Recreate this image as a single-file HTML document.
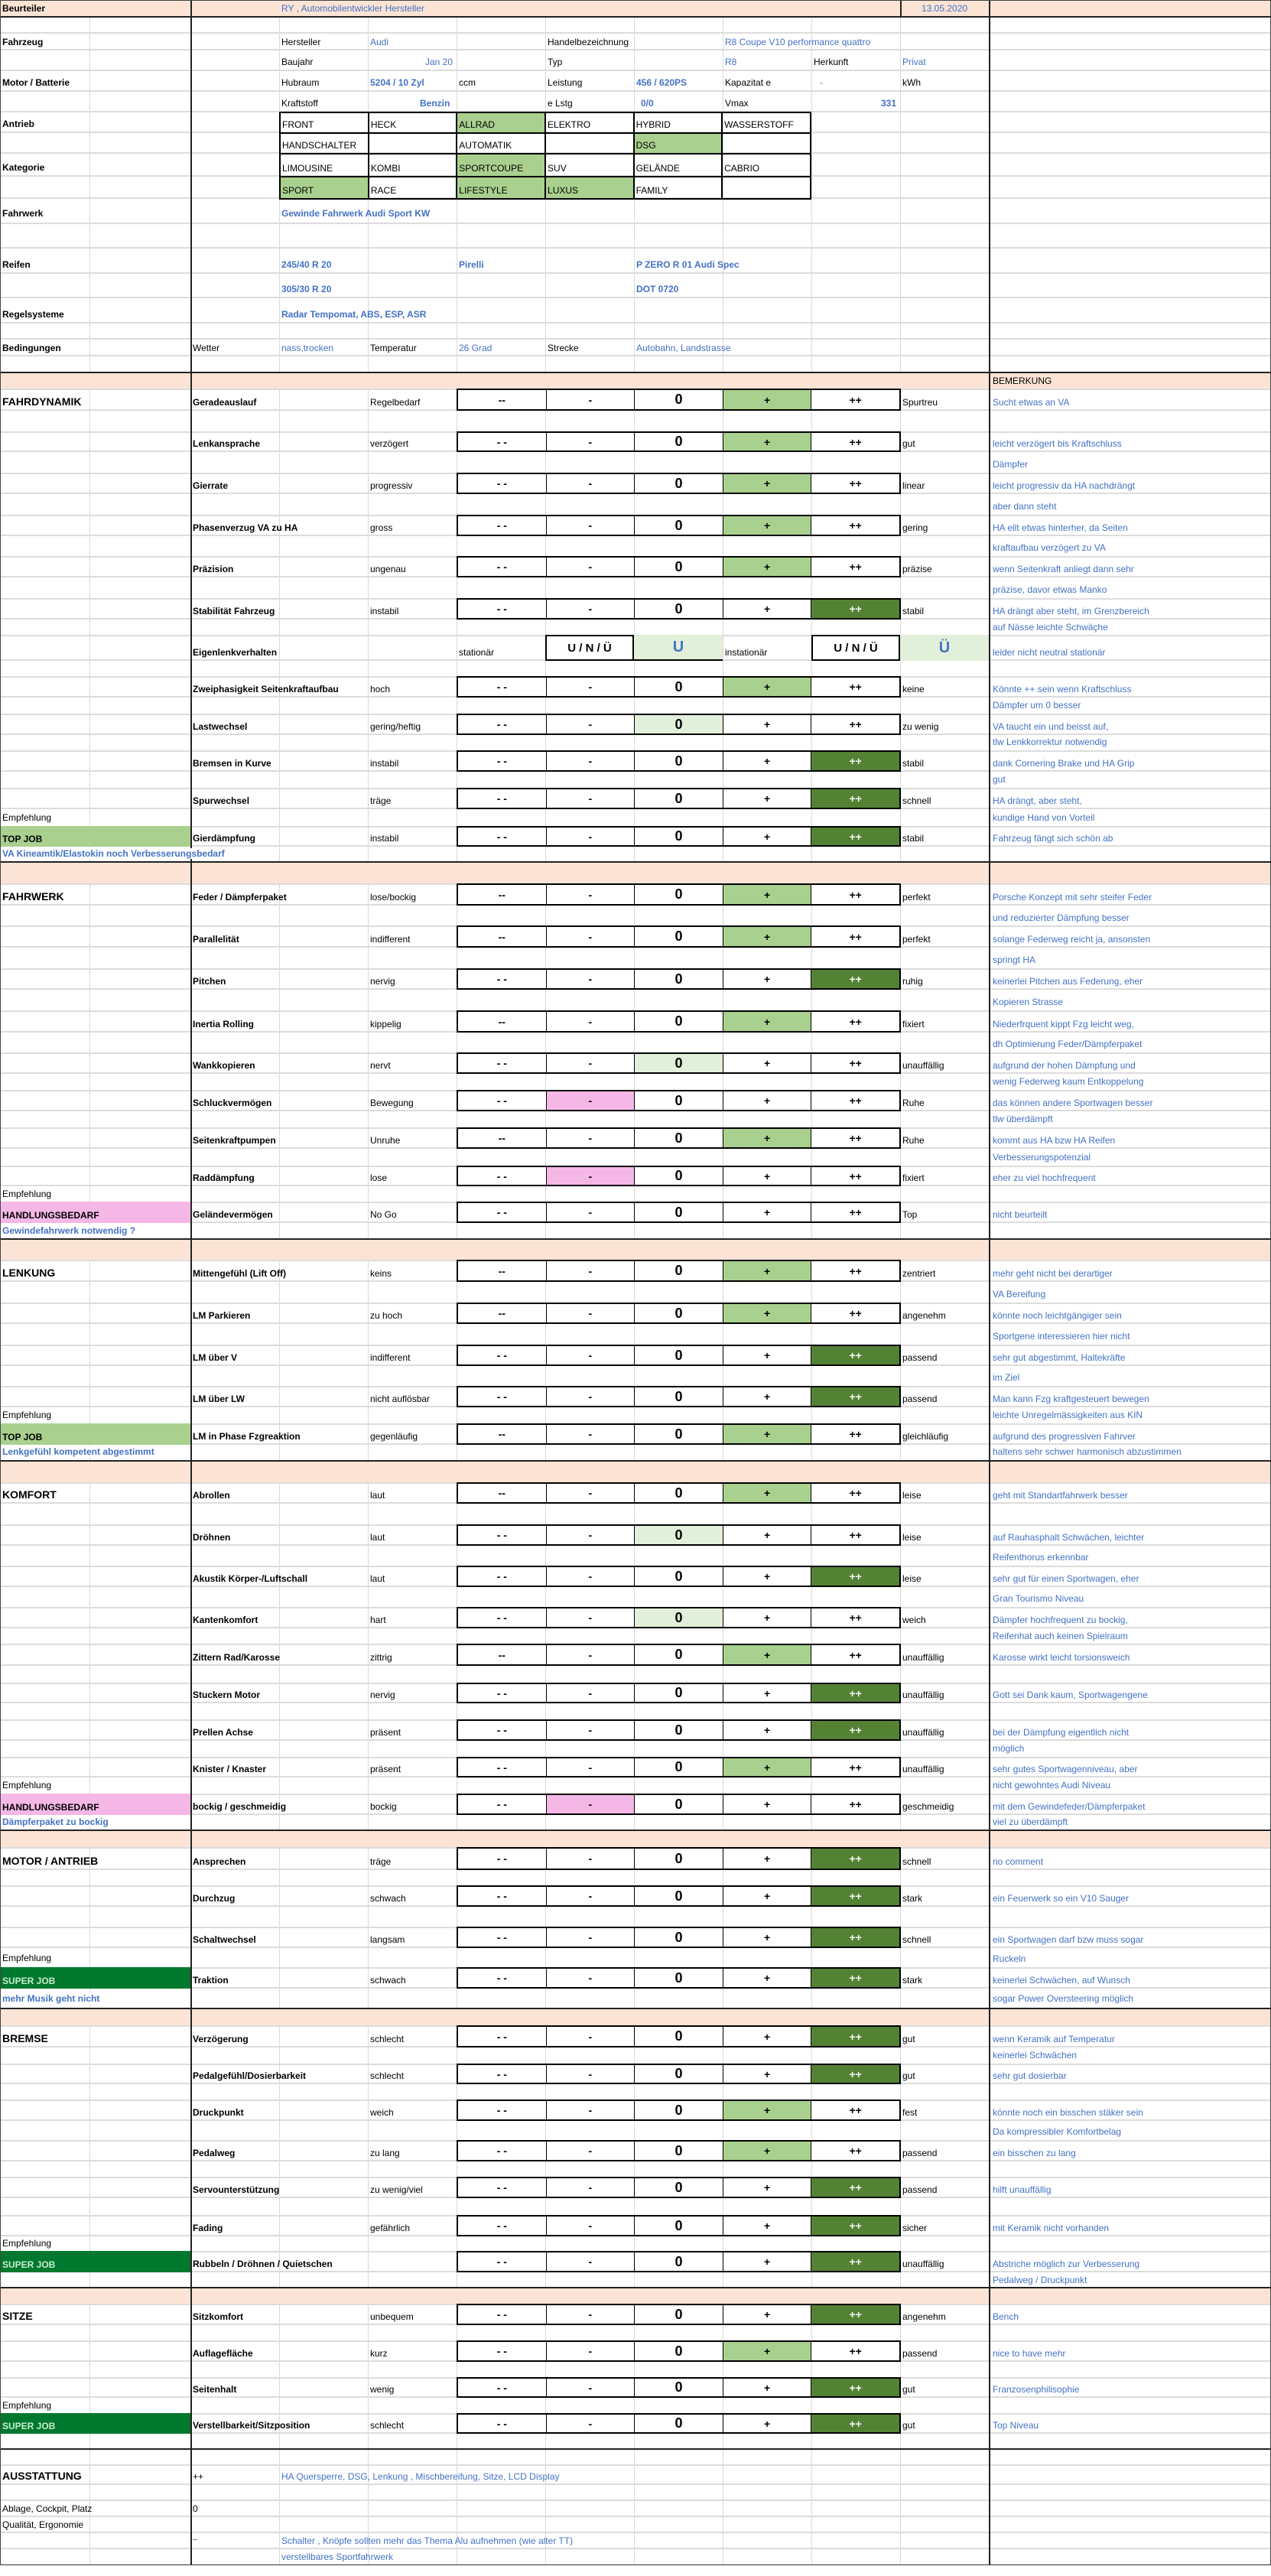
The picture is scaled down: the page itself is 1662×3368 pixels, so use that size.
<!DOCTYPE html>
<html><head><meta charset="utf-8"><style>
*{margin:0;padding:0}
body{width:1662px;height:3368px;position:relative;background:#fff;font:12px "Liberation Sans",sans-serif;color:#000;overflow:hidden}
.v{position:absolute;top:0;height:3354px;width:1px;background:#d9d9d9}
.vd{position:absolute;top:0;height:3354px;width:2px;background:#222;z-index:5}
.h{position:absolute;left:0;width:1662px;height:2px;background:#dcdcdc}
.k{position:absolute;left:0;width:1662px;height:2px;background:#222;z-index:6}
.p{position:absolute;left:0;width:1662px;background:#fbe4d5;z-index:2}
.r{position:absolute;left:0;width:1662px;border-top:2px solid #dcdcdc;border-bottom:2px solid #dcdcdc;box-sizing:border-box;z-index:3}
.r>*{position:absolute;bottom:2px;white-space:nowrap;font-style:normal}
.l{left:252px;font-weight:bold}
.a{left:484px}
.z{left:1180px}
.m{left:1298px;color:#4472c4}
.s{left:3px;font-weight:bold;font-size:14px}
.r>.bx{left:597px;top:-2px;bottom:-2px;width:581px;display:flex;border:2px solid #000;box-sizing:border-box;background:#fff}
.bx em{flex:1;display:flex;align-items:center;justify-content:center;font-style:normal;font-weight:bold;font-size:14px;border-left:1px solid #000}
.bx em:first-child{border-left:none}
.bx .o{font-size:18px}
.g{background:#a9d08e}.dg{background:#548235;color:#fff}.vl{background:#e2efda}.pk{background:#f5b8e6}
.t{position:absolute;white-space:nowrap;z-index:4}
.b{color:#4472c4}
.bb{color:#4472c4;font-weight:bold}
.lc{position:absolute;left:0;width:249px;z-index:4;font-weight:bold;padding:0 3px;box-sizing:border-box;display:flex;align-items:flex-end;padding-bottom:3px}
.tj{background:#a9d08e}.sj{background:#00782d;color:#c6efce}.hb{background:#f5b8e6}
.sm{position:absolute;left:0;z-index:6;background:#fff;padding:0 3px;color:#4472c4;font-weight:bold;white-space:nowrap}
.grid{position:absolute;left:365px;top:146px;width:696px;z-index:4;border-collapse:collapse}
.grid td{border:2px solid #000;width:116px;padding:0 2px;vertical-align:bottom;padding-bottom:3px;box-sizing:border-box}
</style></head><body>
<div style="position:absolute;left:0;top:0;width:1662px;height:3354px;border:1px solid #444;box-sizing:border-box;z-index:7;pointer-events:none"></div>
<div class="v" style="left:117px"></div><div class="v" style="left:365px"></div><div class="v" style="left:481px"></div><div class="v" style="left:597px"></div><div class="v" style="left:713px"></div><div class="v" style="left:829px"></div><div class="v" style="left:945px"></div><div class="v" style="left:1061px"></div><div class="v" style="left:1177px"></div>
<div class="vd" style="left:249px"></div><div class="vd" style="left:1293px"></div>

<div class="p" style="top:0;height:22px"></div>
<div style="position:absolute;left:1177px;top:0;width:2px;height:22px;background:#222;z-index:5"></div>
<div class="k" style="top:21px"></div>
<div class="t" style="left:3px;top:4px;font-weight:bold">Beurteiler</div>
<div class="t b" style="left:368px;top:4px">RY , Automobilentwickler Hersteller</div>
<div class="t b" style="left:1205px;top:4px">13.05.2020</div>

<div class="h" style="top:42px"></div><div class="h" style="top:64px"></div><div class="h" style="top:91px"></div><div class="h" style="top:118px"></div><div class="h" style="top:145px"></div><div class="h" style="top:172px"></div><div class="h" style="top:199px"></div><div class="h" style="top:229px"></div><div class="h" style="top:258px"></div><div class="h" style="top:291px"></div><div class="h" style="top:323px"></div><div class="h" style="top:356px"></div><div class="h" style="top:388px"></div><div class="h" style="top:421px"></div><div class="h" style="top:442px"></div><div class="h" style="top:464px"></div>

<div class="t" style="left:3px;top:48px;font-weight:bold">Fahrzeug</div>
<div class="t" style="left:368px;top:48px">Hersteller</div><div class="t b" style="left:484px;top:48px">Audi</div>
<div class="t" style="left:716px;top:48px">Handelbezeichnung</div><div class="t b" style="left:948px;top:48px">R8 Coupe V10 performance quattro</div>
<div class="t" style="left:368px;top:74px">Baujahr</div><div class="t b" style="left:556px;top:74px">Jan 20</div>
<div class="t" style="left:716px;top:74px">Typ</div><div class="t b" style="left:948px;top:74px">R8</div>
<div class="t" style="left:1064px;top:74px">Herkunft</div><div class="t b" style="left:1180px;top:74px">Privat</div>
<div class="t" style="left:3px;top:101px;font-weight:bold">Motor / Batterie</div>
<div class="t" style="left:368px;top:101px">Hubraum</div><div class="t bb" style="left:484px;top:101px">5204 / 10 Zyl</div><div class="t" style="left:600px;top:101px">ccm</div>
<div class="t" style="left:716px;top:101px">Leistung</div><div class="t bb" style="left:832px;top:101px">456 / 620PS</div>
<div class="t" style="left:948px;top:101px">Kapazitat e</div><div class="t b" style="left:1072px;top:101px">-</div><div class="t" style="left:1180px;top:101px">kWh</div>
<div class="t" style="left:368px;top:128px">Kraftstoff</div><div class="t bb" style="left:549px;top:128px">Benzin</div>
<div class="t" style="left:716px;top:128px">e Lstg</div><div class="t bb" style="left:838px;top:128px">0/0</div>
<div class="t" style="left:948px;top:128px">Vmax</div><div class="t bb" style="left:1152px;top:128px">331</div>
<div class="t" style="left:3px;top:155px;font-weight:bold">Antrieb</div>
<div class="t" style="left:3px;top:212px;font-weight:bold">Kategorie</div>
<table class="grid">
<tr style="height:27px"><td>FRONT</td><td>HECK</td><td class="g">ALLRAD</td><td>ELEKTRO</td><td>HYBRID</td><td>WASSERSTOFF</td></tr>
<tr style="height:27px"><td>HANDSCHALTER</td><td></td><td>AUTOMATIK</td><td></td><td class="g">DSG</td><td></td></tr>
<tr style="height:30px"><td>LIMOUSINE</td><td>KOMBI</td><td class="g">SPORTCOUPE</td><td>SUV</td><td>GELÄNDE</td><td>CABRIO</td></tr>
<tr style="height:29px"><td class="g">SPORT</td><td>RACE</td><td class="g">LIFESTYLE</td><td class="g">LUXUS</td><td>FAMILY</td><td></td></tr>
</table>
<div class="t" style="left:3px;top:272px;font-weight:bold">Fahrwerk</div><div class="t bb" style="left:368px;top:272px">Gewinde Fahrwerk Audi Sport KW</div>
<div class="t" style="left:3px;top:339px;font-weight:bold">Reifen</div><div class="t bb" style="left:368px;top:339px">245/40 R 20</div><div class="t bb" style="left:600px;top:339px">Pirelli</div><div class="t bb" style="left:832px;top:339px">P ZERO R 01 Audi Spec</div>
<div class="t bb" style="left:368px;top:371px">305/30 R 20</div><div class="t bb" style="left:832px;top:371px">DOT 0720</div>
<div class="t" style="left:3px;top:404px;font-weight:bold">Regelsysteme</div><div class="t bb" style="left:368px;top:404px">Radar Tempomat, ABS, ESP, ASR</div>
<div class="t" style="left:3px;top:448px;font-weight:bold">Bedingungen</div><div class="t" style="left:252px;top:448px">Wetter</div><div class="t b" style="left:368px;top:448px">nass,trocken</div><div class="t" style="left:484px;top:448px">Temperatur</div><div class="t b" style="left:600px;top:448px">26 Grad</div><div class="t" style="left:716px;top:448px">Strecke</div><div class="t b" style="left:832px;top:448px">Autobahn, Landstrasse</div>

<div class="k" style="top:486px"></div><div class="p" style="top:488px;height:20px"></div><div class="t" style="left:1298px;top:491px">BEMERKUNG</div>
<div class="k" style="top:1126px"></div><div class="p" style="top:1128px;height:27px"></div>
<div class="k" style="top:1619px"></div><div class="p" style="top:1621px;height:26px"></div>
<div class="k" style="top:1909px"></div><div class="p" style="top:1911px;height:27px"></div>
<div class="k" style="top:2392px"></div><div class="p" style="top:2394px;height:21px"></div>
<div class="k" style="top:2625px"></div><div class="p" style="top:2627px;height:21px"></div>
<div class="k" style="top:2990px"></div><div class="p" style="top:2992px;height:20px"></div>
<div class="k" style="top:3201px"></div>

<div class="r" style="top:508px;height:29px"><b class="s">FAHRDYNAMIK</b><b class="l">Geradeauslauf</b><i class="a">Regelbedarf</i><div class="bx"><em>--</em><em>-</em><em class="o">0</em><em class="g">+</em><em>++</em></div><i class="z">Spurtreu</i><i class="m">Sucht etwas an VA</i></div>
<div class="r" style="top:564px;height:27px"><b class="l">Lenkansprache</b><i class="a">verzögert</i><div class="bx"><em>- -</em><em>-</em><em class="o">0</em><em class="g">+</em><em>++</em></div><i class="z">gut</i><i class="m">leicht verzögert bis Kraftschluss</i></div>
<div class="t b" style="left:1298px;top:600px">Dämpfer</div>
<div class="r" style="top:618px;height:28px"><b class="l">Gierrate</b><i class="a">progressiv</i><div class="bx"><em>- -</em><em>-</em><em class="o">0</em><em class="g">+</em><em>++</em></div><i class="z">linear</i><i class="m">leicht progressiv da HA nachdrängt</i></div>
<div class="t b" style="left:1298px;top:655px">aber dann steht</div>
<div class="r" style="top:673px;height:28px"><b class="l">Phasenverzug VA zu HA</b><i class="a">gross</i><div class="bx"><em>- -</em><em>-</em><em class="o">0</em><em class="g">+</em><em>++</em></div><i class="z">gering</i><i class="m">HA eilt etwas hinterher, da Seiten</i></div>
<div class="t b" style="left:1298px;top:709px">kraftaufbau verzögert zu VA</div>
<div class="r" style="top:727px;height:28px"><b class="l">Präzision</b><i class="a">ungenau</i><div class="bx"><em>- -</em><em>-</em><em class="o">0</em><em class="g">+</em><em>++</em></div><i class="z">präzise</i><i class="m">wenn Seitenkraft anliegt dann sehr</i></div>
<div class="t b" style="left:1298px;top:764px">präzise, davor etwas Manko</div>
<div class="r" style="top:782px;height:28px"><b class="l">Stabilität Fahrzeug</b><i class="a">instabil</i><div class="bx"><em>- -</em><em>-</em><em class="o">0</em><em>+</em><em class="dg">++</em></div><i class="z">stabil</i><i class="m">HA drängt aber steht, im Grenzbereich</i></div>
<div class="t b" style="left:1298px;top:813px">auf Nässe leichte Schwäçhe</div>
<div class="r" style="top:830px;height:34px"><b class="l">Eigenlenkverhalten</b><i style="left:600px">stationär</i>
<div style="position:absolute;left:713px;top:-2px;bottom:-2px;width:116px;border:2px solid #000;box-sizing:border-box;display:flex;align-items:center;justify-content:center;font-weight:bold;font-size:15px">U / N / Ü</div>
<div class="vl" style="position:absolute;left:829px;top:-2px;bottom:-2px;width:116px;display:flex;align-items:center;justify-content:center;font-weight:bold;font-size:20px;color:#4472c4;border-bottom:2px solid #000">U</div>
<i style="left:948px">instationär</i>
<div style="position:absolute;left:1061px;top:-2px;bottom:-2px;width:116px;border:2px solid #000;box-sizing:border-box;display:flex;align-items:center;justify-content:center;font-weight:bold;font-size:15px">U / N / Ü</div>
<div class="vl" style="position:absolute;left:1177px;top:-2px;bottom:-2px;width:116px;display:flex;align-items:center;justify-content:center;font-weight:bold;font-size:20px;color:#4472c4">Ü</div>
<i class="m">leider nicht neutral stationär</i></div>
<div class="r" style="top:884px;height:28px"><b class="l">Zweiphasigkeit Seitenkraftaufbau</b><i class="a">hoch</i><div class="bx"><em>- -</em><em>-</em><em class="o">0</em><em class="g">+</em><em>++</em></div><i class="z">keine</i><i class="m">Könnte ++ sein wenn Kraftschluss</i></div>
<div class="t b" style="left:1298px;top:915px">Dämpfer um 0 besser</div>
<div class="r" style="top:933px;height:28px"><b class="l">Lastwechsel</b><i class="a">gering/heftig</i><div class="bx"><em>- -</em><em>-</em><em class="o vl">0</em><em>+</em><em>++</em></div><i class="z">zu wenig</i><i class="m">VA taucht ein und beisst auf,</i></div>
<div class="t b" style="left:1298px;top:963px">tlw Lenkkorrektur notwendig</div>
<div class="r" style="top:981px;height:28px"><b class="l">Bremsen in Kurve</b><i class="a">instabil</i><div class="bx"><em>- -</em><em>-</em><em class="o">0</em><em>+</em><em class="dg">++</em></div><i class="z">stabil</i><i class="m">dank Cornering Brake und HA Grip</i></div>
<div class="t b" style="left:1298px;top:1012px">gut</div>
<div class="r" style="top:1030px;height:28px"><b class="l">Spurwechsel</b><i class="a">träge</i><div class="bx"><em>- -</em><em>-</em><em class="o">0</em><em>+</em><em class="dg">++</em></div><i class="z">schnell</i><i class="m">HA drängt, aber steht,</i></div>
<div class="t" style="left:3px;top:1062px">Empfehlung</div><div class="t b" style="left:1298px;top:1062px">kundige Hand von Vorteil</div>
<div class="lc tj" style="top:1080px;height:27px">TOP JOB</div>
<div class="r" style="top:1080px;height:27px"><b class="l">Gierdämpfung</b><i class="a">instabil</i><div class="bx"><em>- -</em><em>-</em><em class="o">0</em><em>+</em><em class="dg">++</em></div><i class="z">stabil</i><i class="m">Fahrzeug fängt sich schön ab</i></div>
<div class="sm" style="top:1109px">VA Kineamtik/Elastokin noch Verbesserungsbedarf</div>

<div class="r" style="top:1155px;height:29px"><b class="s">FAHRWERK</b><b class="l">Feder / Dämpferpaket</b><i class="a">lose/bockig</i><div class="bx"><em>--</em><em>-</em><em class="o">0</em><em class="g">+</em><em>++</em></div><i class="z">perfekt</i><i class="m">Porsche Konzept mit sehr steifer Feder</i></div>
<div class="t b" style="left:1298px;top:1193px">und reduzierter Dämpfung besser</div>
<div class="r" style="top:1210px;height:29px"><b class="l">Parallelität</b><i class="a">indifferent</i><div class="bx"><em>--</em><em>-</em><em class="o">0</em><em class="g">+</em><em>++</em></div><i class="z">perfekt</i><i class="m">solange Federweg reicht ja, ansonsten</i></div>
<div class="t b" style="left:1298px;top:1248px">springt HA</div>
<div class="r" style="top:1266px;height:28px"><b class="l">Pitchen</b><i class="a">nervig</i><div class="bx"><em>- -</em><em>-</em><em class="o">0</em><em>+</em><em class="dg">++</em></div><i class="z">ruhig</i><i class="m">keinerlei Pitchen aus Federung, eher</i></div>
<div class="t b" style="left:1298px;top:1303px">Kopieren  Strasse</div>
<div class="r" style="top:1321px;height:29px"><b class="l">Inertia Rolling</b><i class="a">kippelig</i><div class="bx"><em>--</em><em>-</em><em class="o">0</em><em class="g">+</em><em>++</em></div><i class="z">fixiert</i><i class="m">Niederfrquent kippt Fzg leicht weg,</i></div>
<div class="t b" style="left:1298px;top:1358px">dh Optimierung Feder/Dämpferpaket</div>
<div class="r" style="top:1376px;height:28px"><b class="l">Wankkopieren</b><i class="a">nervt</i><div class="bx"><em>- -</em><em>-</em><em class="o vl">0</em><em>+</em><em>++</em></div><i class="z">unauffällig</i><i class="m">aufgrund der hohen Dämpfung und</i></div>
<div class="t b" style="left:1298px;top:1407px">wenig Federweg kaum Entkoppelung</div>
<div class="r" style="top:1425px;height:28px"><b class="l">Schluckvermögen</b><i class="a">Bewegung</i><div class="bx"><em>- -</em><em class="pk">-</em><em class="o">0</em><em>+</em><em>++</em></div><i class="z">Ruhe</i><i class="m">das können andere Sportwagen besser</i></div>
<div class="t b" style="left:1298px;top:1456px">tlw überdämpft</div>
<div class="r" style="top:1474px;height:28px"><b class="l">Seitenkraftpumpen</b><i class="a">Unruhe</i><div class="bx"><em>--</em><em>-</em><em class="o">0</em><em class="g">+</em><em>++</em></div><i class="z">Ruhe</i><i class="m">kommt aus HA bzw HA Reifen</i></div>
<div class="t b" style="left:1298px;top:1506px">Verbesserungspotenzial</div>
<div class="r" style="top:1524px;height:27px"><b class="l">Raddämpfung</b><i class="a">lose</i><div class="bx"><em>- -</em><em class="pk">-</em><em class="o">0</em><em>+</em><em>++</em></div><i class="z">fixiert</i><i class="m">eher zu viel hochfrequent</i></div>
<div class="t" style="left:3px;top:1554px">Empfehlung</div>
<div class="lc hb" style="top:1571px;height:28px">HANDLUNGSBEDARF</div>
<div class="r" style="top:1571px;height:28px"><b class="l">Geländevermögen</b><i class="a">No Go</i><div class="bx"><em>- -</em><em>-</em><em class="o">0</em><em>+</em><em>++</em></div><i class="z">Top</i><i class="m">nicht beurteilt</i></div>
<div class="sm" style="top:1602px">Gewindefahrwerk notwendig ?</div>

<div class="r" style="top:1647px;height:29px"><b class="s">LENKUNG</b><b class="l">Mittengefühl (Lift Off)</b><i class="a">keins</i><div class="bx"><em>--</em><em>-</em><em class="o">0</em><em class="g">+</em><em>++</em></div><i class="z">zentriert</i><i class="m">mehr geht nicht bei derartiger</i></div>
<div class="t b" style="left:1298px;top:1685px">VA Bereifung</div>
<div class="r" style="top:1703px;height:28px"><b class="l">LM Parkieren</b><i class="a">zu hoch</i><div class="bx"><em>--</em><em>-</em><em class="o">0</em><em class="g">+</em><em>++</em></div><i class="z">angenehm</i><i class="m">könnte noch leichtgängiger sein</i></div>
<div class="t b" style="left:1298px;top:1740px">Sportgene interessieren hier nicht</div>
<div class="r" style="top:1758px;height:28px"><b class="l">LM über V</b><i class="a">indifferent</i><div class="bx"><em>- -</em><em>-</em><em class="o">0</em><em>+</em><em class="dg">++</em></div><i class="z">passend</i><i class="m">sehr gut abgestimmt, Haltekräfte</i></div>
<div class="t b" style="left:1298px;top:1794px">im Ziel</div>
<div class="r" style="top:1812px;height:28px"><b class="l">LM über LW</b><i class="a">nicht auflösbar</i><div class="bx"><em>- -</em><em>-</em><em class="o">0</em><em>+</em><em class="dg">++</em></div><i class="z">passend</i><i class="m">Man kann Fzg kraftgesteuert bewegen</i></div>
<div class="t" style="left:3px;top:1843px">Empfehlung</div><div class="t b" style="left:1298px;top:1843px">leichte Unregelmässigkeiten aus KIN</div>
<div class="lc tj" style="top:1861px;height:28px">TOP JOB</div>
<div class="r" style="top:1861px;height:28px"><b class="l">LM in Phase Fzgreaktion</b><i class="a">gegenläufig</i><div class="bx"><em>--</em><em>-</em><em class="o">0</em><em class="g">+</em><em>++</em></div><i class="z">gleichläufig</i><i class="m">aufgrund des progressiven Fahrver</i></div>
<div class="sm" style="top:1891px">Lenkgefühl kompetent abgestimmt</div><div class="t b" style="left:1298px;top:1891px">haltens sehr schwer harmonisch abzustimmen</div>

<div class="r" style="top:1938px;height:28px"><b class="s">KOMFORT</b><b class="l">Abrollen</b><i class="a">laut</i><div class="bx"><em>--</em><em>-</em><em class="o">0</em><em class="g">+</em><em>++</em></div><i class="z">leise</i><i class="m">geht mit Standartfahrwerk besser</i></div>
<div class="r" style="top:1993px;height:28px"><b class="l">Dröhnen</b><i class="a">laut</i><div class="bx"><em>- -</em><em>-</em><em class="o vl">0</em><em>+</em><em>++</em></div><i class="z">leise</i><i class="m">auf Rauhasphalt Schwächen, leichter</i></div>
<div class="t b" style="left:1298px;top:2029px">Reifenthorus erkennbar</div>
<div class="r" style="top:2047px;height:28px"><b class="l">Akustik Körper-/Luftschall</b><i class="a">laut</i><div class="bx"><em>- -</em><em>-</em><em class="o">0</em><em>+</em><em class="dg">++</em></div><i class="z">leise</i><i class="m">sehr gut für einen Sportwagen, eher</i></div>
<div class="t b" style="left:1298px;top:2083px">Gran Tourismo Niveau</div>
<div class="r" style="top:2101px;height:28px"><b class="l">Kantenkomfort</b><i class="a">hart</i><div class="bx"><em>- -</em><em>-</em><em class="o vl">0</em><em>+</em><em>++</em></div><i class="z">weich</i><i class="m">Dämpfer hochfrequent zu bockig,</i></div>
<div class="t b" style="left:1298px;top:2132px">Reifenhat auch keinen Spielraum</div>
<div class="r" style="top:2149px;height:29px"><b class="l">Zittern Rad/Karosse</b><i class="a">zittrig</i><div class="bx"><em>--</em><em>-</em><em class="o">0</em><em class="g">+</em><em>++</em></div><i class="z">unauffällig</i><i class="m">Karosse wirkt leicht torsionsweich</i></div>
<div class="r" style="top:2200px;height:27px"><b class="l">Stuckern Motor</b><i class="a">nervig</i><div class="bx"><em>- -</em><em>-</em><em class="o">0</em><em>+</em><em class="dg">++</em></div><i class="z">unauffällig</i><i class="m">Gott sei Dank kaum, Sportwagengene</i></div>
<div class="r" style="top:2248px;height:28px"><b class="l">Prellen Achse</b><i class="a">präsent</i><div class="bx"><em>- -</em><em>-</em><em class="o">0</em><em>+</em><em class="dg">++</em></div><i class="z">unauffällig</i><i class="m">bei der Dämpfung eigentlich nicht</i></div>
<div class="t b" style="left:1298px;top:2279px">möglich</div>
<div class="r" style="top:2297px;height:27px"><b class="l">Knister / Knaster</b><i class="a">präsent</i><div class="bx"><em>- -</em><em>-</em><em class="o">0</em><em class="g">+</em><em>++</em></div><i class="z">unauffällig</i><i class="m">sehr gutes Sportwagenniveau, aber</i></div>
<div class="t" style="left:3px;top:2327px">Empfehlung</div><div class="t b" style="left:1298px;top:2327px">nicht gewohntes Audi Niveau</div>
<div class="lc hb" style="top:2345px;height:28px">HANDLUNGSBEDARF</div>
<div class="r" style="top:2345px;height:28px"><b class="l">bockig / geschmeidig</b><i class="a">bockig</i><div class="bx"><em>- -</em><em class="pk">-</em><em class="o">0</em><em>+</em><em>++</em></div><i class="z">geschmeidig</i><i class="m">mit dem Gewindefeder/Dämpferpaket</i></div>
<div class="sm" style="top:2375px">Dämpferpaket zu bockig</div><div class="t b" style="left:1298px;top:2375px">viel zu überdämpft</div>

<div class="r" style="top:2415px;height:30px"><b class="s">MOTOR / ANTRIEB</b><b class="l">Ansprechen</b><i class="a">träge</i><div class="bx"><em>- -</em><em>-</em><em class="o">0</em><em>+</em><em class="dg">++</em></div><i class="z">schnell</i><i class="m">no comment</i></div>
<div class="r" style="top:2465px;height:28px"><b class="l">Durchzug</b><i class="a">schwach</i><div class="bx"><em>- -</em><em>-</em><em class="o">0</em><em>+</em><em class="dg">++</em></div><i class="z">stark</i><i class="m">ein Feuerwerk so ein V10 Sauger</i></div>
<div class="r" style="top:2519px;height:28px"><b class="l">Schaltwechsel</b><i class="a">langsam</i><div class="bx"><em>- -</em><em>-</em><em class="o">0</em><em>+</em><em class="dg">++</em></div><i class="z">schnell</i><i class="m">ein Sportwagen darf bzw muss sogar</i></div>
<div class="t" style="left:3px;top:2553px">Empfehlung</div><div class="t b" style="left:1298px;top:2554px">Ruckeln</div>
<div class="lc sj" style="top:2572px;height:28px">SUPER JOB</div>
<div class="r" style="top:2572px;height:28px"><b class="l">Traktion</b><i class="a">schwach</i><div class="bx"><em>- -</em><em>-</em><em class="o">0</em><em>+</em><em class="dg">++</em></div><i class="z">stark</i><i class="m">keinerlei Schwächen, auf Wunsch</i></div>
<div class="sm" style="top:2606px">mehr Musik geht nicht</div><div class="t b" style="left:1298px;top:2606px">sogar Power Oversteering möglich</div>

<div class="r" style="top:2648px;height:29px"><b class="s">BREMSE</b><b class="l">Verzögerung</b><i class="a">schlecht</i><div class="bx"><em>- -</em><em>-</em><em class="o">0</em><em>+</em><em class="dg">++</em></div><i class="z">gut</i><i class="m">wenn Keramik auf Temperatur</i></div>
<div class="t b" style="left:1298px;top:2680px">keinerlei Schwächen</div>
<div class="r" style="top:2698px;height:27px"><b class="l">Pedalgefühl/Dosierbarkeit</b><i class="a">schlecht</i><div class="bx"><em>- -</em><em>-</em><em class="o">0</em><em>+</em><em class="dg">++</em></div><i class="z">gut</i><i class="m">sehr gut dosierbar</i></div>
<div class="r" style="top:2745px;height:28px"><b class="l">Druckpunkt</b><i class="a">weich</i><div class="bx"><em>- -</em><em>-</em><em class="o">0</em><em class="g">+</em><em>++</em></div><i class="z">fest</i><i class="m">könnte noch ein bisschen stäker sein</i></div>
<div class="t b" style="left:1298px;top:2780px">Da kompressibler Komfortbelag</div>
<div class="r" style="top:2798px;height:28px"><b class="l">Pedalweg</b><i class="a">zu lang</i><div class="bx"><em>- -</em><em>-</em><em class="o">0</em><em class="g">+</em><em>++</em></div><i class="z">passend</i><i class="m">ein bisschen zu lang</i></div>
<div class="r" style="top:2846px;height:28px"><b class="l">Servounterstützung</b><i class="a">zu wenig/viel</i><div class="bx"><em>- -</em><em>-</em><em class="o">0</em><em>+</em><em class="dg">++</em></div><i class="z">passend</i><i class="m">hilft unauffällig</i></div>
<div class="r" style="top:2896px;height:28px"><b class="l">Fading</b><i class="a">gefährlich</i><div class="bx"><em>- -</em><em>-</em><em class="o">0</em><em>+</em><em class="dg">++</em></div><i class="z">sicher</i><i class="m">mit Keramik nicht vorhanden</i></div>
<div class="t" style="left:3px;top:2926px">Empfehlung</div>
<div class="lc sj" style="top:2943px;height:28px">SUPER JOB</div>
<div class="r" style="top:2943px;height:28px"><b class="l">Rubbeln / Dröhnen / Quietschen</b><div class="bx"><em>- -</em><em>-</em><em class="o">0</em><em>+</em><em class="dg">++</em></div><i class="z">unauffällig</i><i class="m">Abstriche möglich zur Verbesserung</i></div>
<div class="t b" style="left:1298px;top:2974px">Pedalweg / Druckpunkt</div>

<div class="r" style="top:3012px;height:28px"><b class="s">SITZE</b><b class="l">Sitzkomfort</b><i class="a">unbequem</i><div class="bx"><em>- -</em><em>-</em><em class="o">0</em><em>+</em><em class="dg">++</em></div><i class="z">angenehm</i><i class="m">Bench</i></div>
<div class="r" style="top:3060px;height:28px"><b class="l">Auflagefläche</b><i class="a">kurz</i><div class="bx"><em>- -</em><em>-</em><em class="o">0</em><em class="g">+</em><em>++</em></div><i class="z">passend</i><i class="m">nice to have mehr</i></div>
<div class="r" style="top:3108px;height:27px"><b class="l">Seitenhalt</b><i class="a">wenig</i><div class="bx"><em>- -</em><em>-</em><em class="o">0</em><em>+</em><em class="dg">++</em></div><i class="z">gut</i><i class="m">Franzosenphilisophie</i></div>
<div class="t" style="left:3px;top:3138px">Empfehlung</div>
<div class="lc sj" style="top:3155px;height:27px">SUPER JOB</div>
<div class="r" style="top:3155px;height:27px"><b class="l">Verstellbarkeit/Sitzposition</b><i class="a">schlecht</i><div class="bx"><em>- -</em><em>-</em><em class="o">0</em><em>+</em><em class="dg">++</em></div><i class="z">gut</i><i class="m">Top Niveau</i></div>

<div class="h" style="top:3222px"></div><div class="h" style="top:3247px"></div><div class="h" style="top:3268px"></div><div class="h" style="top:3289px"></div><div class="h" style="top:3310px"></div><div class="h" style="top:3331px"></div><div class="h" style="top:3352px"></div>
<div class="t" style="left:3px;top:3229px;font-weight:bold;font-size:14px">AUSSTATTUNG</div>
<div class="t" style="left:252px;top:3231px">++</div><div class="t b" style="left:368px;top:3231px">HA Quersperre, DSG, Lenkung , Mischbereifung, Sitze, LCD Display</div>
<div class="t" style="left:3px;top:3273px">Ablage, Cockpit, Platz</div><div class="t" style="left:252px;top:3273px">0</div>
<div class="t" style="left:3px;top:3294px">Qualität, Ergonomie</div>
<div class="t" style="left:252px;top:3315px;font-size:9px">--</div><div class="t b" style="left:368px;top:3315px">Schalter , Knöpfe sollten mehr das Thema Alu aufnehmen (wie alter TT)</div>
<div class="t b" style="left:368px;top:3336px">verstellbares Sportfahrwerk</div>
</body></html>
